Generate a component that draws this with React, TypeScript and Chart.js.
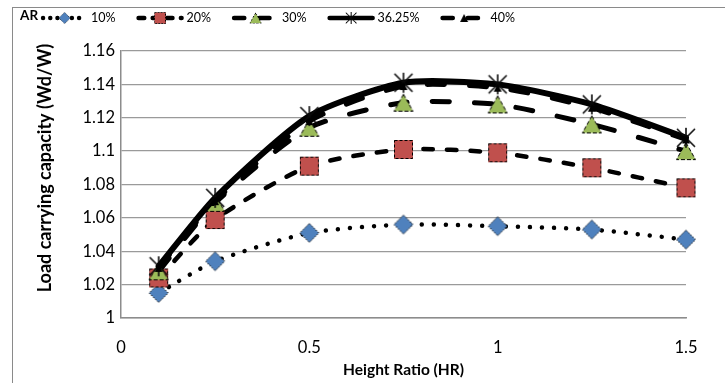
import React, { useEffect, useRef } from 'react';
import { Chart, registerables } from 'chart.js';

Chart.register(...registerables);

// ---- data ----
const heightRatio = [0.1, 0.25, 0.5, 0.75, 1, 1.25, 1.5];
const ar10 = [1.015, 1.034, 1.051, 1.056, 1.055, 1.053, 1.047];
const ar20 = [1.024, 1.059, 1.091, 1.101, 1.099, 1.090, 1.078];
const ar30 = [1.028, 1.069, 1.114, 1.129, 1.128, 1.116, 1.100];
const ar3625 = [1.031, 1.072, 1.121, 1.141, 1.140, 1.128, 1.108];
const ar40 = [1.030, 1.070, 1.118, 1.139, 1.138, 1.126, 1.107];
const seriesLabels = ['10%', '20%', '30%', '36.25%', '40%'];
const legendTitle = 'AR';
const yTicks = [1, 1.02, 1.04, 1.06, 1.08, 1.1, 1.12, 1.14, 1.16];
const xTicks = [0, 0.5, 1, 1.5];
const xTitle = 'Height Ratio (HR)';
const yTitle = 'Load carrying capacity (Wd/W)';

const FONT = 'Lato, "Open Sans", sans-serif';

function makeCanvas(w: number, h: number, draw: (ctx: CanvasRenderingContext2D) => void) {
  const c = document.createElement('canvas');
  c.width = w;
  c.height = h;
  const ctx = c.getContext('2d')!;
  draw(ctx);
  return c;
}

function buildMarkers() {
  const diamond = makeCanvas(22, 22, (ctx) => {
    ctx.beginPath();
    ctx.moveTo(11, 1.5);
    ctx.lineTo(20.5, 11);
    ctx.lineTo(11, 20.5);
    ctx.lineTo(1.5, 11);
    ctx.closePath();
    ctx.fillStyle = '#4F81BD';
    ctx.fill();
    ctx.setLineDash([1.5, 1.5]);
    ctx.lineWidth = 1;
    ctx.strokeStyle = '#000';
    ctx.stroke();
  });
  const square = makeCanvas(21, 21, (ctx) => {
    ctx.fillStyle = '#C0504D';
    ctx.fillRect(1, 1, 19, 19);
    ctx.setLineDash([3, 2]);
    ctx.lineWidth = 1;
    ctx.strokeStyle = '#000';
    ctx.strokeRect(1.5, 1.5, 18, 18);
  });
  const triangle = makeCanvas(22, 20, (ctx) => {
    ctx.beginPath();
    ctx.moveTo(11, 1.5);
    ctx.lineTo(20.5, 18.5);
    ctx.lineTo(1.5, 18.5);
    ctx.closePath();
    ctx.fillStyle = '#9BBB59';
    ctx.fill();
    ctx.setLineDash([4, 2]);
    ctx.lineWidth = 1;
    ctx.strokeStyle = '#000';
    ctx.stroke();
  });
  const star = makeCanvas(22, 22, (ctx) => {
    ctx.strokeStyle = '#0a0a0a';
    ctx.lineWidth = 1.6;
    ctx.beginPath();
    ctx.moveTo(2, 2);
    ctx.lineTo(20, 20);
    ctx.moveTo(20, 2);
    ctx.lineTo(2, 20);
    ctx.moveTo(11, 1);
    ctx.lineTo(11, 21);
    ctx.stroke();
  });
  const small = makeCanvas(10, 10, (ctx) => {
    ctx.beginPath();
    ctx.moveTo(5, 1);
    ctx.lineTo(9, 9);
    ctx.lineTo(1, 9);
    ctx.closePath();
    ctx.fillStyle = '#000';
    ctx.fill();
  });
  return [diamond, square, triangle, star, small];
}

const lineStyles = [
  { width: 4.5, dash: [0.01, 12] },
  { width: 4.5, dash: [9.5, 14] },
  { width: 5, dash: [17, 25] },
  { width: 6, dash: [] as number[] },
  { width: 5, dash: [17, 25] },
];

export default function App() {
  const ref = useRef<HTMLCanvasElement | null>(null);

  useEffect(() => {
    document.body.style.margin = '0';
    const canvas = ref.current!;
    const markers = buildMarkers();
    const seriesValues = [ar10, ar20, ar30, ar3625, ar40];

    const datasets = seriesValues.map((vals, i) => ({
      label: seriesLabels[i],
      data: heightRatio.map((x, j) => ({ x, y: vals[j] })),
      borderColor: '#000',
      backgroundColor: '#000',
      borderWidth: lineStyles[i].width,
      borderDash: lineStyles[i].dash,
      borderCapStyle: 'round' as const,
      borderJoinStyle: 'round' as const,
      tension: 0.22,
      pointStyle: markers[i],
      pointRadius: 10,
      clip: false as const,
      order: 4 - i,
    }));

    const decor = {
      id: 'decor',
      beforeDraw(chart: any) {
        const ctx = chart.ctx as CanvasRenderingContext2D;
        ctx.save();
        ctx.fillStyle = '#fff';
        ctx.fillRect(0, 0, chart.width, chart.height);
        ctx.strokeStyle = '#8a8a8a';
        ctx.lineWidth = 1;
        ctx.strokeRect(12.5, 7.5, chart.width + 20, chart.height + 20);
        ctx.restore();
      },
      afterDraw(chart: any) {
        const ctx = chart.ctx as CanvasRenderingContext2D;
        ctx.save();
        // legend
        const ly = 17;
        ctx.textBaseline = 'middle';
        ctx.fillStyle = '#000';
        ctx.font = `bold 13.5px ${FONT}`;
        ctx.fillText(legendTitle, 20, ly - 1);
        let x = 20 + ctx.measureText(legendTitle).width + 3;
        ctx.font = `12.5px ${FONT}`;
        chart.data.datasets.forEach((ds: any, i: number) => {
          const sw = 47;
          ctx.save();
          ctx.strokeStyle = '#000';
          ctx.lineWidth = Math.min(ds.borderWidth, 4.5);
          ctx.lineCap = 'round';
          ctx.setLineDash(ds.borderDash.length ? ds.borderDash.map((d: number) => d * 0.6) : []);
          ctx.beginPath();
          ctx.moveTo(x + 2, ly + 1);
          ctx.lineTo(x + sw - 2, ly + 1);
          ctx.stroke();
          ctx.restore();
          const m = markers[i];
          const scale = i === 4 ? 1 : 0.6;
          ctx.drawImage(m, x + sw / 2 - (m.width * scale) / 2, ly + 1 - (m.height * scale) / 2, m.width * scale, m.height * scale);
          ctx.fillStyle = '#000';
          ctx.fillText(ds.label, x + sw + 3, ly + 1);
          x += sw + 3 + ctx.measureText(ds.label).width + 21;
        });
        // y title
        ctx.translate(45, 168);
        ctx.rotate(-Math.PI / 2);
        ctx.textAlign = 'center';
        ctx.textBaseline = 'middle';
        ctx.font = `bold 18px ${FONT}`;
        ctx.fillText(yTitle, 0, 0);
        ctx.restore();
      },
    };

    const chart = new Chart(canvas, {
      type: 'line',
      data: { datasets: datasets as any },
      plugins: [decor],
      options: {
        animation: false,
        responsive: false,
        maintainAspectRatio: false,
        layout: { padding: { left: 12, right: 39, top: 51, bottom: 0 } },
        plugins: { legend: { display: false }, tooltip: { enabled: false } },
        scales: {
          x: {
            type: 'linear',
            min: 0,
            max: 1.5,
            afterBuildTicks: (s: any) => {
              s.ticks = xTicks.map((v) => ({ value: v }));
            },
            afterFit: (s: any) => {
              s.height = 65;
            },
            grid: { display: false, drawTicks: false },
            border: { display: true, color: '#8c8c8c', width: 1.5 },
            ticks: {
              padding: 20,
              color: '#000',
              font: { family: FONT, size: 16.5 },
              callback: (v: any) => String(v),
              maxRotation: 0,
              autoSkip: false,
            },
            title: {
              display: true,
              text: xTitle,
              color: '#000',
              font: { family: FONT, size: 15.5, weight: 'bold' },
              padding: { top: 0, bottom: 4 },
            },
          },
          y: {
            type: 'linear',
            min: 1,
            max: 1.16,
            afterBuildTicks: (s: any) => {
              s.ticks = yTicks.map((v) => ({ value: v }));
            },
            afterFit: (s: any) => {
              s.width = 109;
            },
            grid: { display: true, color: '#9a9a9a', lineWidth: 1.25, drawTicks: false },
            border: { display: true, color: '#8c8c8c', width: 1.5 },
            ticks: {
              padding: 6,
              color: '#000',
              font: { family: FONT, size: 16.5 },
              callback: (v: any) => String(parseFloat(Number(v).toFixed(2))),
              autoSkip: false,
            },
          },
        },
      },
    });
    return () => chart.destroy();
  }, []);

  return (
    <div style={{ position: 'absolute', left: 0, top: 0, width: 725, height: 383, background: '#fff' }}>
      <canvas ref={ref} width={725} height={383} style={{ width: 725, height: 383, display: 'block' }} />
    </div>
  );
}
